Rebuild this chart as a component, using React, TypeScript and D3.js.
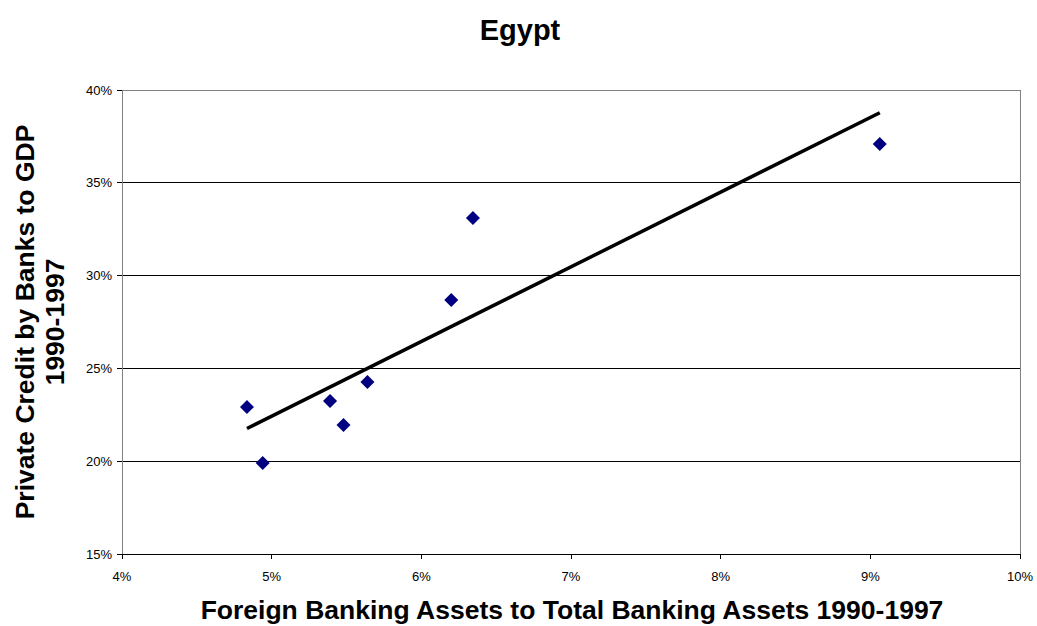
import React from "react";
import * as d3 from "d3";

const foreignAssets = [4.835, 4.94, 5.39, 5.48, 5.64, 6.2, 6.345, 9.063];
const privateCredit = [22.92, 19.9, 23.24, 21.95, 24.27, 28.69, 33.1, 37.09];
const xTicks = [4, 5, 6, 7, 8, 9, 10];
const yTicks = [15, 20, 25, 30, 35, 40];
const title = "Egypt";
const xTitle = "Foreign Banking Assets to Total Banking Assets 1990-1997";
const yTitle = ["Private Credit by Banks to GDP", "1990-1997"];

const W = 1037;
const H = 626;
const M = { left: 122, right: 1020, top: 90, bottom: 554 };

export default function App() {
  const x = d3.scaleLinear().domain([4, 10]).range([M.left, M.right]);
  const y = d3.scaleLinear().domain([15, 40]).range([M.bottom, M.top]);

  const n = foreignAssets.length;
  const mx = d3.mean(foreignAssets)!;
  const my = d3.mean(privateCredit)!;
  let sxy = 0, sxx = 0;
  for (let i = 0; i < n; i++) {
    sxy += (foreignAssets[i] - mx) * (privateCredit[i] - my);
    sxx += (foreignAssets[i] - mx) ** 2;
  }
  const slope = sxy / sxx;
  const icpt = my - slope * mx;
  const x0 = d3.min(foreignAssets)!;
  const x1 = d3.max(foreignAssets)!;
  const line = d3.line<number>().x((d) => x(d)).y((d) => y(icpt + slope * d));

  const font = "Arial, 'Liberation Sans', sans-serif";
  const diamond = d3.symbol().type(d3.symbolDiamond2).size(125)();

  return (
    <svg width={W} height={H} style={{ position: "absolute", left: 0, top: 0, fontFamily: font }}>
      <rect x={0} y={0} width={W} height={H} fill="#fff" />
      {yTicks.slice(1, -1).map((t) => (
        <line key={t} x1={M.left} x2={M.right} y1={y(t)} y2={y(t)} stroke="#000" strokeWidth={1} shapeRendering="crispEdges" />
      ))}
      <line x1={M.left} x2={M.right} y1={M.top} y2={M.top} stroke="#808080" shapeRendering="crispEdges" />
      <line x1={M.right} x2={M.right} y1={M.top} y2={M.bottom} stroke="#808080" shapeRendering="crispEdges" />
      <line x1={M.left} x2={M.left} y1={M.top} y2={M.bottom} stroke="#808080" shapeRendering="crispEdges" />
      <line x1={M.left} x2={M.right} y1={M.bottom} y2={M.bottom} stroke="#000" shapeRendering="crispEdges" />
      {yTicks.map((t) => (
        <g key={t}>
          <line x1={M.left - 5} x2={M.left} y1={y(t)} y2={y(t)} stroke="#000" shapeRendering="crispEdges" />
          <text x={M.left - 10} y={y(t)} dy="0.35em" textAnchor="end" fontSize={13}>
            {t}%
          </text>
        </g>
      ))}
      {xTicks.map((t) => (
        <g key={t}>
          <line x1={x(t)} x2={x(t)} y1={M.bottom} y2={M.bottom + 5} stroke="#000" shapeRendering="crispEdges" />
          <text x={x(t)} y={M.bottom + 27} textAnchor="middle" fontSize={13}>
            {t}%
          </text>
        </g>
      ))}
      <path d={line([x0, x1]) || ""} fill="none" stroke="#000" strokeWidth={3.5} />
      {foreignAssets.map((fx, i) => (
        <path key={i} d={diamond || ""} transform={`translate(${x(fx)},${y(privateCredit[i])})`} fill="#000080" />
      ))}
      <text x={520} y={40} textAnchor="middle" fontSize={29} fontWeight="bold">
        {title}
      </text>
      <text x={572} y={619} textAnchor="middle" fontSize={26.5} fontWeight="bold">
        {xTitle}
      </text>
      <text transform={`translate(34,322) rotate(-90)`} textAnchor="middle" fontSize={26.5} fontWeight="bold">
        <tspan x={0} dy={0}>{yTitle[0]}</tspan>
        <tspan x={0} dy={30}>{yTitle[1]}</tspan>
      </text>
    </svg>
  );
}
